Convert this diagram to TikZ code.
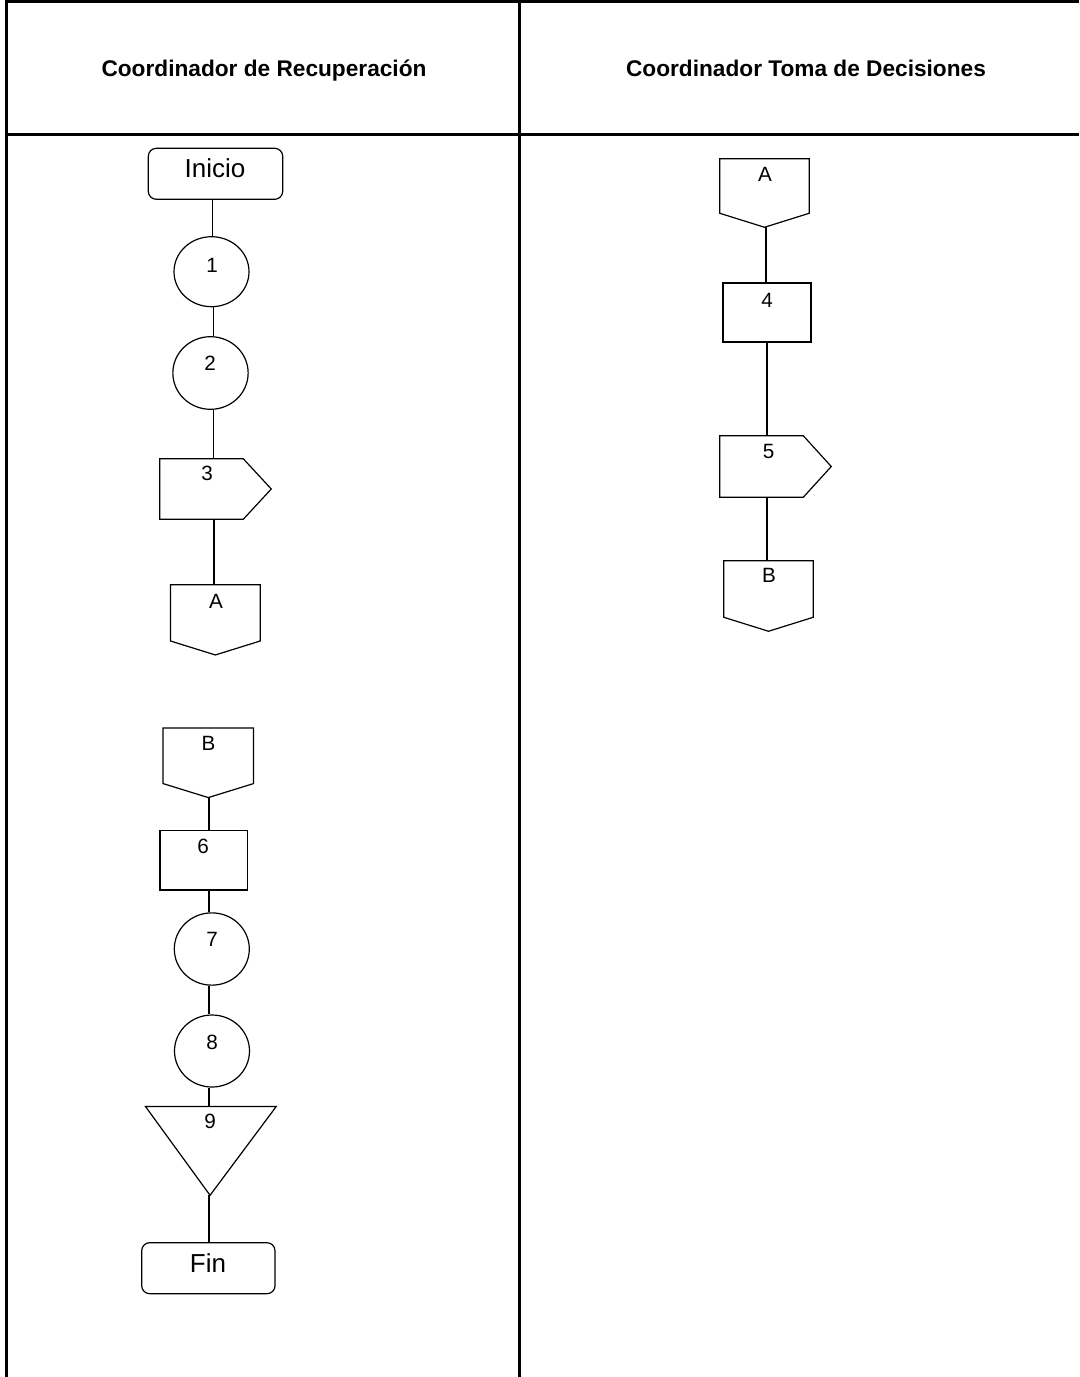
\documentclass[tikz,border=0pt]{standalone}
\usepackage{fontspec}
\setmainfont{Liberation Sans}
\usetikzlibrary{shapes.geometric}
\def\PX{0.75pt}
\newcommand\offpage[1]{\draw[shp] (#1.north west) -- (#1.north east) -- ([yshift=10.5pt]#1.south east) -- (#1.south) -- ([yshift=10.5pt]#1.south west) -- cycle;}
\newcommand\pentarrow[1]{\draw[shp] (#1.north west) -- ([xshift=-21pt]#1.north east) -- (#1.east) -- ([xshift=-21pt]#1.south east) -- (#1.south west) -- cycle;}
\begin{document}
\begin{tikzpicture}[x=0.75pt,y=-0.75pt,
  tbl/.style={line width=2pt},
  shp/.style={draw, line width=0.9pt, inner sep=0pt},
  box/.style={inner sep=0pt},
  sz/.style 2 args={minimum width=#1*\PX, minimum height=#2*\PX},
  conn/.style={line width=0.9pt},
  lbl/.style={inner sep=0pt, font=\fontsize{15.5pt}{18pt}\selectfont},
  big/.style={inner sep=0pt, font=\fontsize{19.5pt}{22pt}\selectfont},
  ttl/.style={inner sep=0pt, anchor=base, font=\bfseries\fontsize{17pt}{20pt}\selectfont}]
\useasboundingbox (0,0) rectangle (1079,1377);
% table
\draw[tbl] (5,1.3) -- (1079,1.3);
\draw[tbl] (5,134.7) -- (1079,134.7);
\draw[tbl] (6.2,0) -- (6.2,1377);
\draw[tbl] (519.5,0) -- (519.5,1377);
\node[ttl] (h1) at (264,77) {Coordinador de Recuperación};
\node[ttl] (h2) at (806,77) {Coordinador Toma de Decisiones};
% line columns
\coordinate (xa) at (212.7,0);
\coordinate (xb) at (213.3,0);
\coordinate (xc) at (214,0);
\coordinate (xd) at (209,0);
\coordinate (xe) at (766,0);
\coordinate (xf) at (767,0);
% left column shapes
\node[shp, rounded corners=6pt, sz={134.4}{51}] (ini) at (215.5,173.8) {};
\node[big] (tini) at (215,168.3) {Inicio};
\node[shp, ellipse, sz={75}{70}] (c1) at (211.5,271.7) {};
\node[lbl] (t1) at (212,265) {1};
\node[shp, ellipse, sz={75.3}{72.6}] (c2) at (210.5,373) {};
\node[lbl] (t2) at (210,363) {2};
\node[box, sz={111}{60}] (s3) at (215.5,489) {};
\pentarrow{s3}
\node[lbl] (t3) at (207,473) {3};
\node[box, sz={89.3}{69.7}] (oA) at (215.35,619.85) {};
\offpage{oA}
\node[lbl] (tA) at (216,601) {A};
\node[box, sz={90}{69}] (oB) at (208.3,762.8) {};
\offpage{oB}
\node[lbl] (tB) at (208.5,743) {B};
\node[shp, sz={87.7}{59.3}] (r6) at (203.85,860.35) {};
\node[lbl] (t6) at (203,846.7) {6};
\node[shp, ellipse, sz={75}{72.3}] (c7) at (211.8,949) {};
\node[lbl] (t7) at (212,939) {7};
\node[shp, ellipse, sz={75}{72}] (c8) at (212,1051) {};
\node[lbl] (t8) at (212,1042) {8};
\node[box, sz={130.3}{88.3}] (t9) at (210.85,1150.85) {};
\draw[shp] (t9.north west) -- (t9.north east) -- ([xshift=-0.6pt]t9.south) -- cycle;
\node[lbl] (t9l) at (210,1121.7) {9};
\node[shp, rounded corners=6pt, sz={133.3}{51}] (fin) at (208.35,1268.2) {};
\node[big] (tfin) at (208,1262.7) {Fin};
% right column shapes
\node[box, sz={89}{68}] (rA) at (764.5,193) {};
\offpage{rA}
\node[lbl] (trA) at (765,174) {A};
\node[shp, sz={88}{59}] (r4) at (767,312.5) {};
\node[lbl] (t4) at (767,300.5) {4};
\node[box, sz={111}{61}] (s5) at (775.5,466.5) {};
\pentarrow{s5}
\node[lbl] (t5) at (768.5,451.5) {5};
\node[box, sz={89}{70}] (rB) at (768.5,596) {};
\offpage{rB}
\node[lbl] (trB) at (769,575.5) {B};
% connectors
\draw[conn] (xa |- ini.south) -- (xa |- c1.north);
\draw[conn] (xb |- c1.south) -- (xb |- c2.north);
\draw[conn] (xb |- c2.south) -- (xb |- s3.north);
\draw[conn] (xc |- s3.south) -- (xc |- oA.north);
\draw[conn] (xd |- oB.south) -- (xd |- r6.north);
\draw[conn] (xd |- r6.south) -- (xd |- c7.north);
\draw[conn] (xd |- c7.south) -- (xd |- c8.north);
\draw[conn] (xd |- c8.south) -- (xd |- t9.north);
\draw[conn] (xd |- t9.south) -- (xd |- fin.north);
\draw[conn] (xe |- rA.south) -- (xe |- r4.north);
\draw[conn] (xf |- r4.south) -- (xf |- s5.north);
\draw[conn] (xf |- s5.south) -- (xf |- rB.north);
\end{tikzpicture}
\end{document}
